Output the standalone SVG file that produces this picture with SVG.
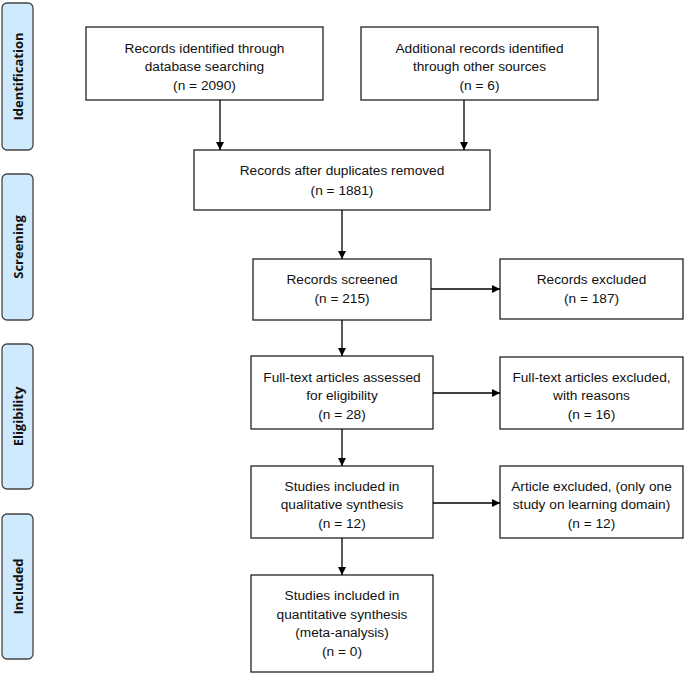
<svg xmlns="http://www.w3.org/2000/svg" width="685" height="675" viewBox="0 0 685 675">
<defs>
<marker id="ah" markerWidth="8" markerHeight="8" refX="8" refY="4" orient="auto" markerUnits="userSpaceOnUse">
<path d="M0,0 L8,4 L0,8 Z" fill="#000"/>
</marker>
<style>
.box{fill:#fff;stroke:#222;stroke-width:1.3}
.side{fill:#cfeafc;stroke:#444;stroke-width:1.3}
.t{font-family:"Liberation Sans",Arial,sans-serif;font-size:13.7px;fill:#111;text-anchor:middle}
.s{font-family:"Open Sans","Liberation Sans",sans-serif;font-size:13px;font-weight:bold;fill:#111;text-anchor:middle}
.c{stroke:#000;stroke-width:1.3;fill:none;marker-end:url(#ah)}
</style>
</defs>
<rect width="685" height="675" fill="#fff"/>
<g id="stage-identification"><rect class="side" x="2" y="3" width="31" height="147" rx="5"/><text class="s" transform="translate(22.5,76.5) rotate(-90)">Identification</text></g>
<g id="stage-screening"><rect class="side" x="2" y="174" width="31" height="146" rx="5"/><text class="s" transform="translate(22.5,247) rotate(-90)">Screening</text></g>
<g id="stage-eligibility"><rect class="side" x="2" y="344" width="31" height="145" rx="5"/><text class="s" transform="translate(22.5,416.5) rotate(-90)">Eligibility</text></g>
<g id="stage-included"><rect class="side" x="2" y="514" width="31" height="145" rx="5"/><text class="s" transform="translate(22.5,586.5) rotate(-90)">Included</text></g>

<g id="db"><rect class="box" x="86" y="27" width="237" height="73"/>
<text class="t" x="204.5" y="52.5">Records identified through</text><text class="t" x="204.5" y="71">database searching</text><text class="t" x="204.5" y="89.5">(n = 2090)</text></g>
<g id="other"><rect class="box" x="361" y="27" width="237" height="73"/>
<text class="t" x="479.5" y="52.5">Additional records identified</text><text class="t" x="479.5" y="71">through other sources</text><text class="t" x="479.5" y="89.5">(n = 6)</text></g>
<g id="dedup"><rect class="box" x="194" y="150" width="296" height="60"/>
<text class="t" x="342" y="175">Records after duplicates removed</text><text class="t" x="342" y="194.5">(n = 1881)</text></g>
<g id="screened"><rect class="box" x="253" y="259" width="178" height="61"/>
<text class="t" x="342" y="283.5">Records screened</text><text class="t" x="342" y="303">(n = 215)</text></g>
<g id="rec-excl"><rect class="box" x="500" y="259" width="183" height="60"/>
<text class="t" x="591.5" y="283.5">Records excluded</text><text class="t" x="591.5" y="303">(n = 187)</text></g>
<g id="fulltext"><rect class="box" x="251" y="356" width="182" height="73"/>
<text class="t" x="342" y="381.5">Full-text articles assessed</text><text class="t" x="342" y="400">for eligibility</text><text class="t" x="342" y="418.5">(n = 28)</text></g>
<g id="ft-excl"><rect class="box" x="500" y="357" width="183" height="72"/>
<text class="t" x="591.5" y="381.5">Full-text articles excluded,</text><text class="t" x="591.5" y="400">with reasons</text><text class="t" x="591.5" y="418.5">(n = 16)</text></g>
<g id="qual"><rect class="box" x="251" y="466" width="182" height="72"/>
<text class="t" x="342" y="490.5">Studies included in</text><text class="t" x="342" y="509">qualitative synthesis</text><text class="t" x="342" y="527.5">(n = 12)</text></g>
<g id="art-excl"><rect class="box" x="500" y="466" width="183" height="72"/>
<text class="t" x="591.5" y="490.5">Article excluded, (only one</text><text class="t" x="591.5" y="509">study on learning domain)</text><text class="t" x="591.5" y="527.5">(n = 12)</text></g>
<g id="quant"><rect class="box" x="251" y="575" width="182" height="97"/>
<text class="t" x="342" y="600">Studies included in</text><text class="t" x="342" y="618.5">quantitative synthesis</text><text class="t" x="342" y="637">(meta-analysis)</text><text class="t" x="342" y="655.5">(n = 0)</text></g>

<g id="connectors">
<line class="c" x1="220" y1="100" x2="220" y2="150"/>
<line class="c" x1="464" y1="100" x2="464" y2="150"/>
<line class="c" x1="342" y1="210" x2="342" y2="259"/>
<line class="c" x1="342" y1="320" x2="342" y2="356"/>
<line class="c" x1="342" y1="429" x2="342" y2="466"/>
<line class="c" x1="342" y1="538" x2="342" y2="575"/>
<line class="c" x1="431" y1="289" x2="500" y2="289"/>
<line class="c" x1="433" y1="393" x2="500" y2="393"/>
<line class="c" x1="433" y1="503" x2="500" y2="503"/>
</g>
</svg>
